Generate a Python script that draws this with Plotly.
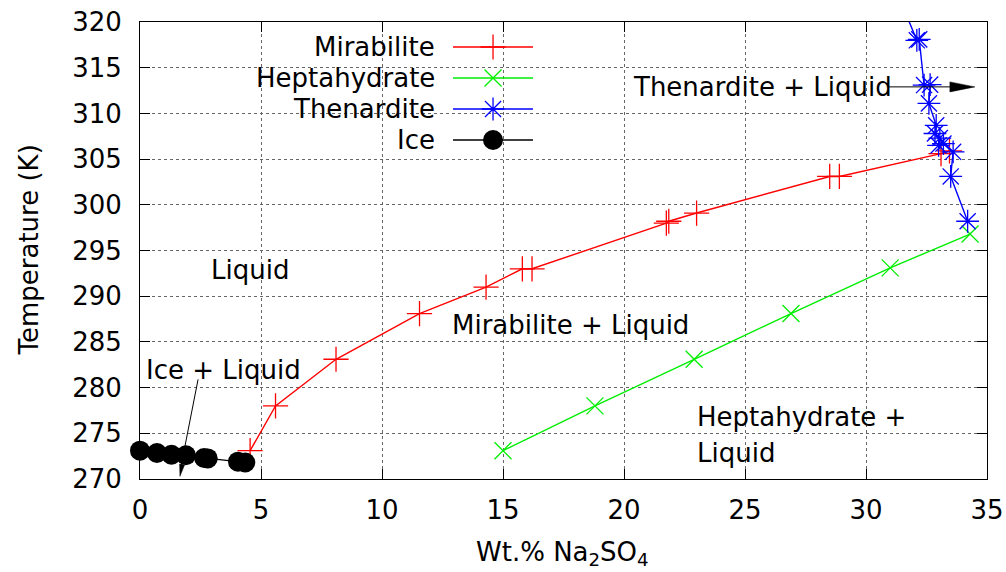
import plotly.graph_objects as go

# ---- data ----
mir_x = [4.55, 5.6, 8.1, 11.55, 14.3, 15.8, 16.2, 21.75, 21.85, 23.0, 28.5, 28.9, 33.1, 33.45]
mir_y = [273.1, 278.0, 283.1, 288.1, 291.0, 293.0, 293.0, 298.0, 298.2, 299.1, 303.1, 303.1, 305.6, 305.9]

hep_x = [15.0, 18.8, 22.9, 26.9, 31.0, 34.3]
hep_y = [273.1, 278.0, 283.1, 288.1, 293.1, 296.8]

then_x = [31.3, 32.1, 32.2, 32.4, 32.65, 32.6, 32.9, 32.85, 33.05, 33.0, 33.2, 33.6, 33.5, 34.2]
then_y = [323.15, 318.0, 318.1, 313.1, 313.15, 311.1, 308.7, 307.8, 307.3, 306.5, 306.7, 305.8, 303.1, 298.2]

ice_x = [0.0, 0.7, 1.3, 1.9, 2.65, 2.8, 4.05, 4.35]
ice_y = [273.1, 272.85, 272.65, 272.6, 272.3, 272.25, 271.9, 271.8]

x_ticks = [0, 5, 10, 15, 20, 25, 30, 35]
y_ticks = [270, 275, 280, 285, 290, 295, 300, 305, 310, 315, 320]

series = [
    ("Mirabilite", mir_x, mir_y, "#ff0000", "cross-thin-open", 18, 1.3),
    ("Heptahydrate", hep_x, hep_y, "#00ee00", "x-thin-open", 17, 1.3),
    ("Thenardite", then_x, then_y, "#0000ff", "asterisk-open", 19, 1.3),
    ("Ice", ice_x, ice_y, "#000000", "circle", 20, 0),
]

FONT = "DejaVu Sans"
FS = 26

fig = go.Figure()
for name, xs, ys, col, sym, size, mlw in series:
    fig.add_trace(go.Scatter(
        x=xs, y=ys, mode="lines+markers", name=name,
        line=dict(color=col, width=1.4),
        marker=dict(symbol=sym, size=size, color=col, line=dict(color=col, width=mlw)),
        cliponaxis=(name == "Thenardite"), showlegend=False))

# ---- custom legend (gnuplot style: text left of sample) ----
lx_text, lx0, lx1, lxm = 0.3506, 0.3695, 0.4640, 0.4168
rows = [0.9453, 0.8775, 0.8096, 0.7418]
shapes = [dict(type="rect", xref="paper", yref="paper", x0=0.118, x1=0.482, y0=0.715, y1=1.0,
               fillcolor="white", line=dict(width=0), layer="between")]
annotations = []
for (name, xs, ys, col, sym, size, mlw), ry in zip(series, rows):
    shapes.append(dict(type="line", xref="paper", yref="paper", x0=lx0, x1=lx1, y0=ry, y1=ry,
                       line=dict(color=col, width=1.4)))
    annotations.append(dict(x=lx_text, y=ry, xref="paper", yref="paper", text=name, showarrow=False,
                            xanchor="right", yanchor="middle", font=dict(family=FONT, size=FS, color="black")))
    fig.add_trace(go.Scatter(x=[lxm], y=[ry], xaxis="x2", yaxis="y2", mode="markers",
                             marker=dict(symbol=sym, size=size, color=col, line=dict(color=col, width=mlw)),
                             cliponaxis=False, showlegend=False, hoverinfo="skip"))

# ---- region labels ----
def lab(x, y, t, xa="center"):
    annotations.append(dict(x=x, y=y, xref="x", yref="y", text=t, showarrow=False, xanchor=xa,
                            yanchor="middle", font=dict(family=FONT, size=FS, color="black")))

lab(4.55, 292.9, "Liquid")
lab(3.43, 281.9, "Ice + Liquid")
lab(17.77, 286.85, "Mirabilite + Liquid")
lab(20.3, 312.9, "Thenardite + Liquid", "left")
lab(22.93, 276.8, "Heptahydrate +", "left")
lab(22.93, 272.8, "Liquid", "left")

# axis titles
annotations.append(dict(x=0.4994, y=-0.162, xref="paper", yref="paper", showarrow=False,
                        text="Wt.% Na<sub>2</sub>SO<sub>4</sub>", xanchor="center", yanchor="middle",
                        font=dict(family=FONT, size=FS, color="black")))
annotations.append(dict(x=-0.1322, y=0.5, xref="paper", yref="paper", showarrow=False,
                        text="Temperature (K)", textangle=-90, xanchor="center", yanchor="middle",
                        font=dict(family=FONT, size=FS, color="black")))

# arrows: shaft lines + filled heads (pixel-sized paths anchored at tips)
shapes.append(dict(type="line", xref="x", yref="y", x0=2.4, y0=280.9, x1=1.68, y1=271.2,
                   line=dict(color="black", width=1)))
shapes.append(dict(type="path", xref="x", yref="y", xsizemode="pixel", ysizemode="pixel",
                   xanchor=1.65, yanchor=270.3, path="M0,0 L4.7,11.4 L-0.3,12.3 Z",
                   fillcolor="black", line=dict(color="black", width=0.5)))
shapes.append(dict(type="line", xref="x", yref="y", x0=30.9, y0=312.9, x1=33.5, y1=312.9,
                   line=dict(color="black", width=1)))
shapes.append(dict(type="path", xref="x", yref="y", xsizemode="pixel", ysizemode="pixel",
                   xanchor=34.5, yanchor=312.9, path="M0,0 L-25,5 L-25,-5 Z",
                   fillcolor="black", line=dict(color="black", width=0.5)))

axis_common = dict(showline=True, linecolor="black", linewidth=1, mirror="allticks",
                   ticks="inside", ticklen=10, tickcolor="black", tickwidth=1, automargin=False,
                   ticklabeloverflow="allow",
                   showgrid=True, gridcolor="#666666", griddash="dot", gridwidth=1,
                   zeroline=False, tickfont=dict(family=FONT, size=FS, color="black"))

fig.update_layout(
    width=1006, height=572,
    margin=dict(l=140, r=19, t=22, b=93),
    paper_bgcolor="white", plot_bgcolor="white",
    font=dict(family=FONT, size=FS, color="black"),
    xaxis=dict(range=[0, 35], tickvals=x_ticks, ticktext=[str(v) for v in x_ticks],
               ticklabelstandoff=8, **axis_common),
    yaxis=dict(range=[270, 320], tickvals=y_ticks, ticktext=[str(v) for v in y_ticks],
               ticklabelstandoff=12, **axis_common),
    xaxis2=dict(range=[0, 1], overlaying="x", visible=False, showgrid=False),
    yaxis2=dict(range=[0, 1], overlaying="y", visible=False, showgrid=False),
    shapes=shapes, annotations=annotations, showlegend=False,
)

# remove the default page margin so the figure sits at the window origin
fig.write_html("out.html", config={"displayModeBar": False},
               post_script="document.body.style.margin='0';document.body.style.overflow='hidden';")
